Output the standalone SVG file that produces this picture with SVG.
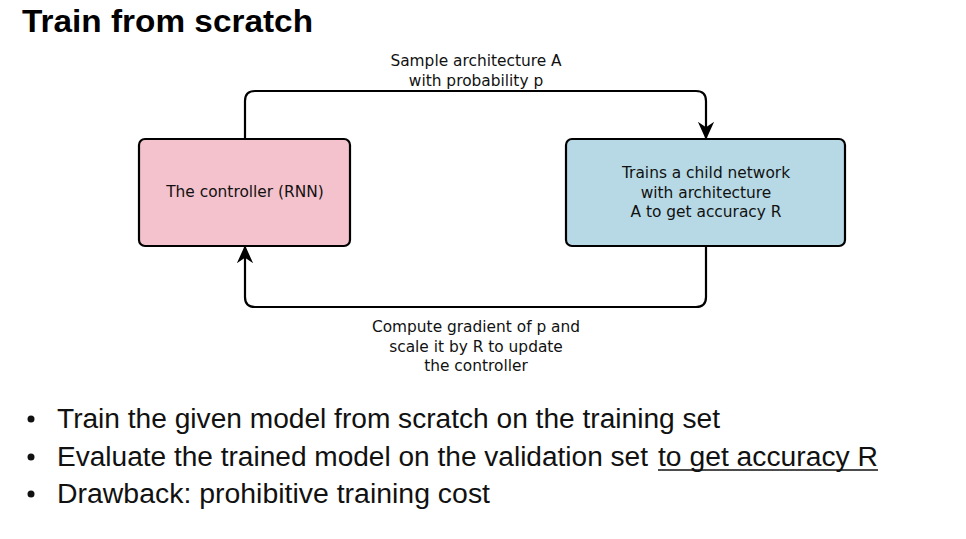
<svg xmlns="http://www.w3.org/2000/svg" width="966" height="539" viewBox="0 0 966 539">
<defs>
<style>
.box{stroke:#000;stroke-width:2.2}
.lbl{font-family:"DejaVu Sans",sans-serif;font-size:15.4px;fill:#111;text-anchor:middle}
.conn{fill:none;stroke:#000;stroke-width:2.2}
.bul{font-family:"Liberation Sans",Arial,sans-serif;font-size:27px;fill:#111}
</style>
<marker id="arr" viewBox="0 0 10 10" refX="9" refY="5" markerWidth="18" markerHeight="18" markerUnits="userSpaceOnUse" orient="auto">
<path d="M0,0.5 L10,5 L0,9.5 L3,5 Z" fill="#000"/>
</marker>
</defs>
<rect width="966" height="539" fill="#fff"/>
<text x="22" y="32" font-family="Liberation Sans,Arial,sans-serif" font-weight="bold" font-size="32" fill="#000" textLength="291" lengthAdjust="spacingAndGlyphs">Train from scratch</text>
<g id="connectors">
<path class="conn" d="M245,139 V101 Q245,91 255,91 H696 Q706,91 706,101 V138" marker-end="url(#arr)"/>
<path class="conn" d="M706,246 V297 Q706,307 696,307 H255 Q245,307 245,297 V247" marker-end="url(#arr)"/>
</g>
<g id="label-top">
<text class="lbl" x="476" y="66">Sample architecture A</text>
<text class="lbl" x="476" y="86">with probability p</text>
</g>
<g id="label-bottom">
<text class="lbl" x="476" y="332">Compute gradient of p and</text>
<text class="lbl" x="476" y="352">scale it by R to update</text>
<text class="lbl" x="476" y="371">the controller</text>
</g>
<g id="controller">
<rect class="box" x="139" y="139" width="211" height="107" rx="6" fill="#f4c2cc"/>
<text class="lbl" x="245" y="197">The controller (RNN)</text>
</g>
<g id="child">
<rect class="box" x="566" y="139" width="279" height="107" rx="6" fill="#b7d9e5"/>
<text class="lbl" x="706" y="178">Trains a child network</text>
<text class="lbl" x="706" y="198">with architecture</text>
<text class="lbl" x="706" y="217">A to get accuracy R</text>
</g>
<g id="bullets">
<circle cx="31" cy="419" r="3.5" fill="#111"/>
<circle cx="31" cy="457" r="3.5" fill="#111"/>
<circle cx="31" cy="494" r="3.5" fill="#111"/>
<text class="bul" x="57" y="428" textLength="663" lengthAdjust="spacingAndGlyphs">Train the given model from scratch on the training set</text>
<text class="bul" x="57" y="466" textLength="591" lengthAdjust="spacingAndGlyphs">Evaluate the trained model on the validation set</text>
<text class="bul" x="658" y="466" textLength="220" lengthAdjust="spacingAndGlyphs">to get accuracy R</text>
<line x1="658" y1="470" x2="878" y2="470" stroke="#111" stroke-width="1.6"/>
<text class="bul" x="57" y="503" textLength="433" lengthAdjust="spacingAndGlyphs">Drawback: prohibitive training cost</text>
</g>
</svg>
